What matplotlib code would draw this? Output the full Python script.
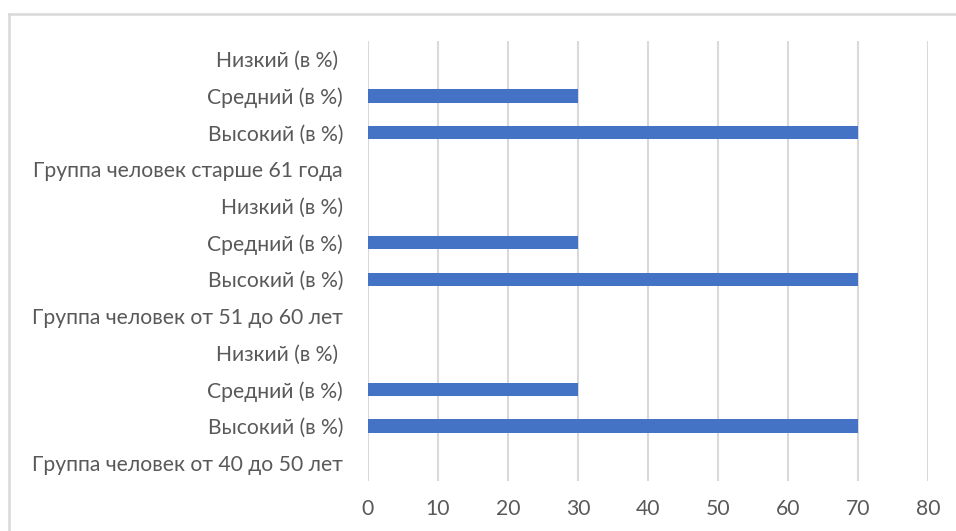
import matplotlib
matplotlib.use("Agg")
import matplotlib.pyplot as plt
from matplotlib.lines import Line2D

plt.rcParams['font.family'] = ['Lato', 'DejaVu Sans']

# Categories listed bottom to top
categories = [
    "Группа человек от 40 до 50 лет",
    "Высокий (в %)",
    "Средний (в %)",
    "Низкий (в %) ",
    "Группа человек от 51 до 60 лет",
    "Высокий (в %)",
    "Средний (в %)",
    "Низкий (в %)",
    "Группа человек старше 61 года",
    "Высокий (в %)",
    "Средний (в %)",
    "Низкий (в %) ",
]
values = [0, 70, 30, 0, 0, 70, 30, 0, 0, 70, 30, 0]
x_ticks = [0, 10, 20, 30, 40, 50, 60, 70, 80]

W, H = 956, 531
fig = plt.figure(figsize=(W / 100, H / 100), dpi=100)
fig.patch.set_facecolor("white")

# plot area in pixels: x 368..928, y 41..481
left, right, top, bottom = 368, 928, 41, 481
ax = fig.add_axes([left / W, 1 - bottom / H, (right - left) / W, (bottom - top) / H])

pos = list(range(len(categories)))
ax.barh(pos, values, height=0.36, color="#4472C4", zorder=3)

ax.set_xlim(0, 80)
ax.set_ylim(-0.5, len(categories) - 0.5)
ax.set_xticks(x_ticks)
ax.set_xticklabels([str(t) for t in x_ticks])
ax.set_yticks(pos)
ax.set_yticklabels(categories)

ax.grid(axis="x", color="#d9d9d9", linewidth=1.5, zorder=0)
ax.grid(axis="y", visible=False)
for s in ax.spines.values():
    s.set_visible(False)
ax.tick_params(axis="both", length=0, colors="#595959", labelsize=15.2)
ax.tick_params(axis="x", pad=13)
ax.tick_params(axis="y", pad=18)

# outer chart frame
fig.add_artist(Line2D([9 / W, 9 / W], [0, 1 - 14 / H], transform=fig.transFigure,
                      color="#d9d9d9", linewidth=1.8))
fig.add_artist(Line2D([9 / W, 1], [1 - 14 / H, 1 - 14 / H], transform=fig.transFigure,
                      color="#d9d9d9", linewidth=1.8))

fig.savefig("out.png", dpi=100)
